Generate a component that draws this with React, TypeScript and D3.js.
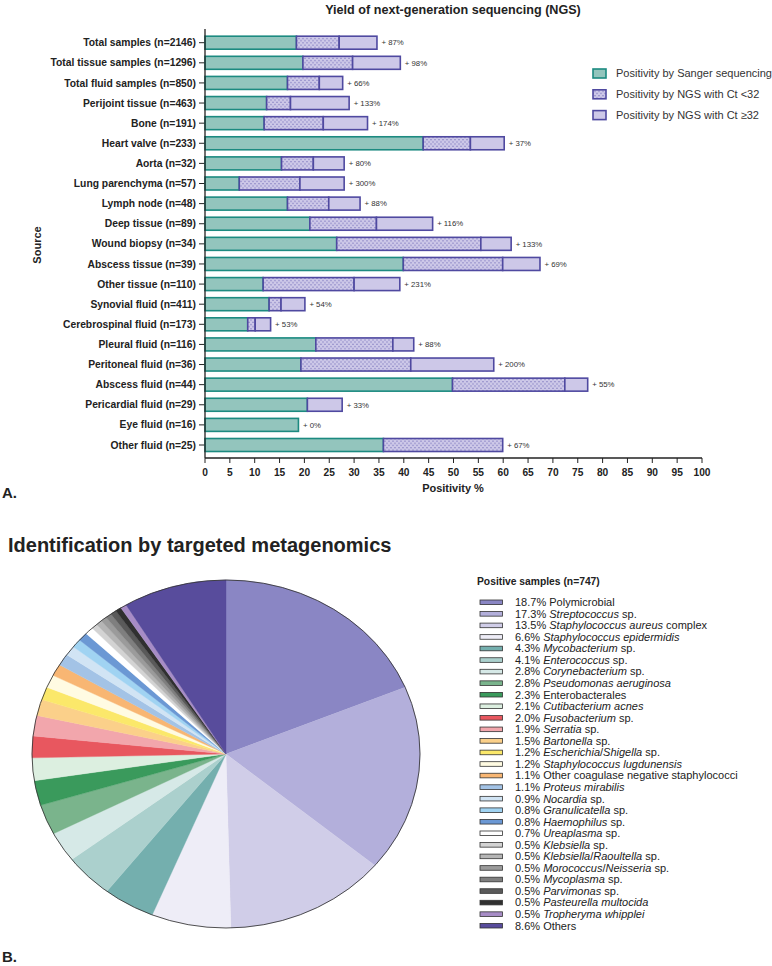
import React from "react";
import * as d3 from "d3";

// ---------- Panel A data ----------
const categories = [
  "Total samples (n=2146)",
  "Total tissue samples (n=1296)",
  "Total fluid samples (n=850)",
  "Perijoint tissue (n=463)",
  "Bone (n=191)",
  "Heart valve (n=233)",
  "Aorta (n=32)",
  "Lung parenchyma (n=57)",
  "Lymph node (n=48)",
  "Deep tissue (n=89)",
  "Wound biopsy (n=34)",
  "Abscess tissue (n=39)",
  "Other tissue (n=110)",
  "Synovial fluid (n=411)",
  "Cerebrospinal fluid (n=173)",
  "Pleural fluid (n=116)",
  "Peritoneal fluid (n=36)",
  "Abscess fluid (n=44)",
  "Pericardial fluid (n=29)",
  "Eye fluid (n=16)",
  "Other fluid (n=25)",
];
const sanger = [18.4, 19.7, 16.6, 12.4, 11.9, 43.9, 15.4, 6.9, 16.6, 21.1, 26.5, 39.9, 11.7, 12.9, 8.6, 22.3, 19.3, 49.8, 20.6, 18.8, 35.9];
const ngsLow = [8.6, 10.0, 6.4, 4.8, 11.9, 9.5, 6.4, 12.2, 8.3, 13.4, 29.0, 20.0, 18.3, 2.4, 1.5, 15.5, 22.1, 22.6, 0, 0, 24.0];
const ngsHigh = [7.6, 9.6, 4.7, 11.8, 8.9, 6.8, 6.2, 8.9, 6.3, 11.3, 6.1, 7.5, 9.2, 4.8, 3.1, 4.2, 16.7, 4.6, 7.0, 0, 0];
const increaseLabels = ["+ 87%", "+ 98%", "+ 66%", "+ 133%", "+ 174%", "+ 37%", "+ 80%", "+ 300%", "+ 88%", "+ 116%", "+ 133%", "+ 69%", "+ 231%", "+ 54%", "+ 53%", "+ 88%", "+ 200%", "+ 55%", "+ 33%", "+ 0%", "+ 67%"];
const xTicks = d3.range(0, 101, 5);
const barLegend = ["Positivity by Sanger sequencing", "Positivity by NGS with Ct <32", "Positivity by NGS with Ct \u226532"];

// ---------- Panel B data ----------
const pieValues = [18.7, 17.3, 13.5, 6.6, 4.3, 4.1, 2.8, 2.8, 2.3, 2.1, 2.0, 1.9, 1.5, 1.2, 1.2, 1.1, 1.1, 0.9, 0.8, 0.8, 0.7, 0.5, 0.5, 0.5, 0.5, 0.5, 0.5, 0.5, 8.6];
const pieNames = [
  "Polymicrobial",
  "*Streptococcus* sp.",
  "*Staphylococcus aureus* complex",
  "*Staphylococcus epidermidis*",
  "*Mycobacterium* sp.",
  "*Enterococcus* sp.",
  "*Corynebacterium* sp.",
  "*Pseudomonas aeruginosa*",
  "Enterobacterales",
  "*Cutibacterium acnes*",
  "*Fusobacterium* sp.",
  "*Serratia* sp.",
  "*Bartonella* sp.",
  "*Escherichia*/*Shigella* sp.",
  "*Staphylococcus lugdunensis*",
  "Other coagulase negative staphylococci",
  "*Proteus mirabilis*",
  "*Nocardia* sp.",
  "*Granulicatella* sp.",
  "*Haemophilus* sp.",
  "*Ureaplasma* sp.",
  "*Klebsiella* sp.",
  "*Klebsiella*/*Raoultella* sp.",
  "*Morococcus*/*Neisseria* sp.",
  "*Mycoplasma* sp.",
  "*Parvimonas* sp.",
  "*Pasteurella multocida*",
  "*Tropheryma whipplei*",
  "Others",
];
const pieColors = [
  "#8a86c4", "#b3afdb", "#d0cde8", "#eeedf7", "#74afae", "#abd0cd", "#d6e9e7",
  "#7ab48c", "#3a9a5c", "#dcefe0", "#e8575f", "#f2a6ac", "#fbd08a", "#fbe86a",
  "#fffbe2", "#f8b673", "#a3c3e6", "#d1e4f4", "#a0d3f2", "#6b98d4", "#ffffff",
  "#d3d3d3", "#b5b5b5", "#9b9b9b", "#7f7f7f", "#5a5a5a", "#303030", "#a78cc6",
  "#584c9c",
];

const FONT = "'Liberation Sans', Arial, Helvetica, sans-serif";
const NARROW = "'Liberation Sans Narrow', 'Arial Narrow', 'Liberation Sans', Arial, sans-serif";

const TEAL_FILL = "#93c5bd";
const TEAL_STROKE = "#1c8a80";
const PURPLE_FILL = "#cdc8e8";
const PURPLE_STROKE = "#4f49a0";

function renderName(name: string) {
  const parts = name.split("*");
  return parts.map((p, i) =>
    p === "" ? null : (
      <tspan key={i} fontStyle={i % 2 === 1 ? "italic" : "normal"}>
        {p}
      </tspan>
    )
  );
}

export default function App() {
  // Panel A scales
  const x = d3.scaleLinear().domain([0, 100]).range([205, 702]);
  const y = d3.scalePoint<string>().domain(categories).range([42.7, 445]);
  const barH = 13;
  const axisY = 458;

  // Panel B
  const cx = 226;
  const cy = 754;
  const rx = 194;
  const ry = 174;
  const pie = d3.pie<number>().sort(null).value((d) => d);
  const arcs = pie(pieValues);
  const arc = d3.arc<d3.PieArcDatum<number>>().innerRadius(0).outerRadius(rx);
  const legendY = d3.scalePoint<number>().domain(d3.range(pieValues.length)).range([602.3, 925.7]);

  return (
    <svg
      width={772}
      height={966}
      style={{ position: "absolute", left: 0, top: 0, background: "#fff" }}
      fontFamily={FONT}
    >
      <defs>
        <pattern id="dots" width={4} height={4.4} patternUnits="userSpaceOnUse">
          <rect width={4} height={4.4} fill={PURPLE_FILL} />
          <circle cx={1} cy={1.1} r={0.65} fill="#726cb8" />
          <circle cx={3} cy={3.3} r={0.65} fill="#726cb8" />
        </pattern>
      </defs>
      <rect width={772} height={966} fill="#fff" />

      {/* ---------- Panel A ---------- */}
      <text x={453} y={14} textAnchor="middle" fontSize={12.6} fontWeight="bold" fill="#222">
        Yield of next-generation sequencing (NGS)
      </text>

      {categories.map((c, i) => {
        const yc = y(c)!;
        const s = sanger[i];
        const l = ngsLow[i];
        const h = ngsHigh[i];
        const total = s + l + h;
        return (
          <g key={c}>
            <text x={196} y={yc} dy="0.35em" textAnchor="end" fontSize={10.3} fontWeight="bold" fill="#222">
              {c}
            </text>
            <line x1={199} x2={205} y1={yc} y2={yc} stroke="#222" strokeWidth={1} />
            <rect x={x(0)} y={yc - barH / 2} width={x(s) - x(0)} height={barH} fill={TEAL_FILL} stroke={TEAL_STROKE} strokeWidth={1.6} />
            {l > 0 && (
              <rect x={x(s)} y={yc - barH / 2} width={x(s + l) - x(s)} height={barH} fill="url(#dots)" stroke={PURPLE_STROKE} strokeWidth={1.6} />
            )}
            {h > 0 && (
              <rect x={x(s + l)} y={yc - barH / 2} width={x(total) - x(s + l)} height={barH} fill={PURPLE_FILL} stroke={PURPLE_STROKE} strokeWidth={1.6} />
            )}
            <text x={x(total) + 4.5} y={yc} dy="0.35em" fontSize={7.8} fill="#333">
              {increaseLabels[i]}
            </text>
          </g>
        );
      })}

      {/* axes */}
      <line x1={205} x2={205} y1={29} y2={axisY} stroke="#222" strokeWidth={1.3} />
      <line x1={205} x2={702} y1={axisY} y2={axisY} stroke="#222" strokeWidth={1.3} />
      {xTicks.map((t) => (
        <g key={t}>
          <line x1={x(t)} x2={x(t)} y1={axisY} y2={axisY + 5} stroke="#222" strokeWidth={1} />
          <text x={x(t)} y={axisY + 14} dy="0.35em" textAnchor="middle" fontSize={10.2} fontWeight="bold" fontFamily={NARROW} fill="#222">
            {t}
          </text>
        </g>
      ))}
      <text x={453} y={488} dy="0.35em" textAnchor="middle" fontSize={11} fontWeight="bold" fontFamily={NARROW} fill="#222">
        Positivity %
      </text>
      <text transform="translate(41,245) rotate(-90)" textAnchor="middle" fontSize={11} fontWeight="bold" fill="#222">
        Source
      </text>
      <text x={2} y={498} fontSize={15} fontWeight="bold" fontFamily={NARROW} fill="#222">
        A.
      </text>

      {/* bar legend */}
      {barLegend.map((lab, i) => {
        const ly = 73.5 + i * 20.8;
        const fill = i === 0 ? TEAL_FILL : i === 1 ? "url(#dots)" : PURPLE_FILL;
        const stroke = i === 0 ? TEAL_STROKE : PURPLE_STROKE;
        return (
          <g key={lab}>
            <rect x={593} y={ly - 4.5} width={13} height={9} fill={fill} stroke={stroke} strokeWidth={1.6} />
            <text x={616} y={ly} dy="0.35em" fontSize={11} fill="#333">
              {lab}
            </text>
          </g>
        );
      })}

      {/* ---------- Panel B ---------- */}
      <text x={8} y={552} fontSize={20} fontWeight="bold" fill="#222">
        Identification by targeted metagenomics
      </text>
      <g transform={`translate(${cx},${cy}) scale(1,${ry / rx})`}>
        {arcs.map((a, i) => (
          <path key={i} d={arc(a)!} fill={pieColors[i]} stroke={pieColors[i]} strokeWidth={0.4} />
        ))}
        <circle r={rx} fill="none" stroke="#333" strokeWidth={0.9} />
      </g>

      <text x={477} y={581} dy="0.35em" fontSize={10.3} fontWeight="bold" fill="#222">
        Positive samples (n=747)
      </text>
      {pieValues.map((v, i) => {
        const ly = legendY(i)!;
        return (
          <g key={i}>
            <rect x={480} y={ly - 2.3} width={22.5} height={4.6} fill={pieColors[i]} stroke="#333" strokeWidth={0.8} />
            <text x={515} y={ly} dy="0.35em" fontSize={11} fill="#222">
              <tspan>{v.toFixed(1)}% </tspan>
              {renderName(pieNames[i])}
            </text>
          </g>
        );
      })}
      <text x={2} y={962} fontSize={15} fontWeight="bold" fontFamily={NARROW} fill="#222">
        B.
      </text>
    </svg>
  );
}
